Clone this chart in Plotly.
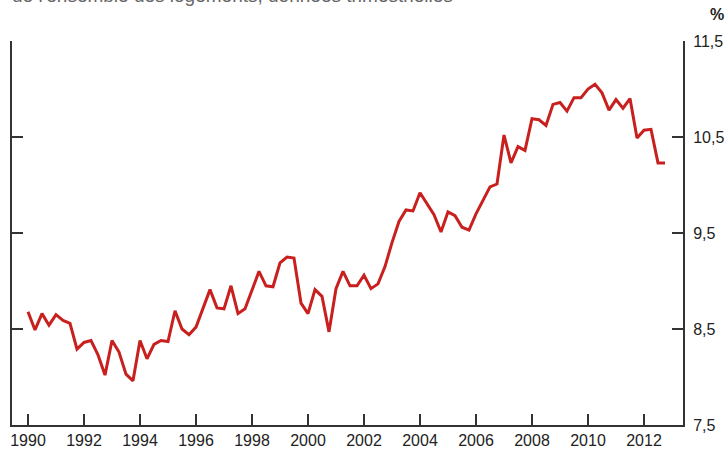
"""Taux de logements vacants, données trimestrielles (1990-2012)."""
import plotly.graph_objects as go

START_YEAR = 1990
# one value per quarter, 1990 Q1 -> 2012 Q4 (in %)
vacancy_rate = [
    8.68, 8.49, 8.66, 8.54, 8.65, 8.59, 8.56, 8.29, 8.36, 8.38, 8.23, 8.02,
    8.38, 8.26, 8.03, 7.96, 8.38, 8.19, 8.34, 8.38, 8.37, 8.69, 8.50, 8.44,
    8.52, 8.72, 8.91, 8.72, 8.71, 8.95, 8.66, 8.71, 8.90, 9.10, 8.95, 8.94,
    9.19, 9.25, 9.24, 8.77, 8.66, 8.91, 8.84, 8.47, 8.92, 9.10, 8.95, 8.95,
    9.06, 8.92, 8.97, 9.15, 9.40, 9.62, 9.74, 9.73, 9.92, 9.80, 9.69, 9.51,
    9.72, 9.68, 9.56, 9.53, 9.70, 9.84, 9.98, 10.01, 10.52, 10.23, 10.40, 10.36,
    10.69, 10.68, 10.62, 10.84, 10.86, 10.77, 10.91, 10.91, 11.00, 11.05, 10.96, 10.78,
    10.89, 10.80, 10.90, 10.49, 10.57, 10.58, 10.23, 10.23,
]
quarters = [START_YEAR + i / 4 for i in range(len(vacancy_rate))]

x_ticks = list(range(1990, 2013, 2))
y_ticks = [7.5, 8.5, 9.5, 10.5, 11.5]
y_labels = ["7,5", "8,5", "9,5", "10,5", "11,5"]

subtitle = "de l'ensemble des logements, données trimestrielles"

FONT = "Liberation Sans, Arial, sans-serif"
AXIS = "#333333"

fig = go.Figure(go.Scatter(
    x=quarters, y=vacancy_rate, mode="lines",
    line=dict(color="#c8201e", width=3),
    hovertemplate="%{x}<br>%{y:.2f} %<extra></extra>",
))

fig.update_layout(
    width=728, height=453,
    margin=dict(l=12, r=45, t=41, b=28),
    paper_bgcolor="white", plot_bgcolor="white",
    showlegend=False,
    font=dict(family=FONT, size=16, color="#222222"),
)
fig.update_xaxes(
    range=[1989.4286, 2013.393], automargin=False,
    tickvals=x_ticks, ticks="inside", ticklen=11, tickwidth=2, tickcolor=AXIS,
    showline=True, linecolor=AXIS, linewidth=2,
    showgrid=False, zeroline=False,
)
fig.update_yaxes(
    side="right", range=[7.5, 11.5], automargin=False,
    tickvals=y_ticks, ticktext=y_labels,
    ticks="inside", ticklen=11, tickwidth=2, tickcolor=AXIS,
    showline=True, linecolor=AXIS, linewidth=2, mirror="ticks",
    ticklabelstandoff=5,
    showgrid=False, zeroline=False,
)

fig.add_annotation(
    text="<b>%</b>", xref="paper", yref="paper", x=1.05, y=1.068,
    xanchor="center", yanchor="middle", showarrow=False,
    font=dict(family=FONT, size=16, color="#222222"),
)
fig.add_annotation(
    text=subtitle, xref="paper", yref="paper", x=-0.003, y=1.086,
    xanchor="left", yanchor="bottom", showarrow=False,
    font=dict(family=FONT, size=19, color="#666666"),
)

# the page body has a default 8px margin; drop it so the figure sits at 0,0
fig.write_html(
    "out.html",
    config={"displayModeBar": False},
    post_script="document.body.style.margin='0';",
)
